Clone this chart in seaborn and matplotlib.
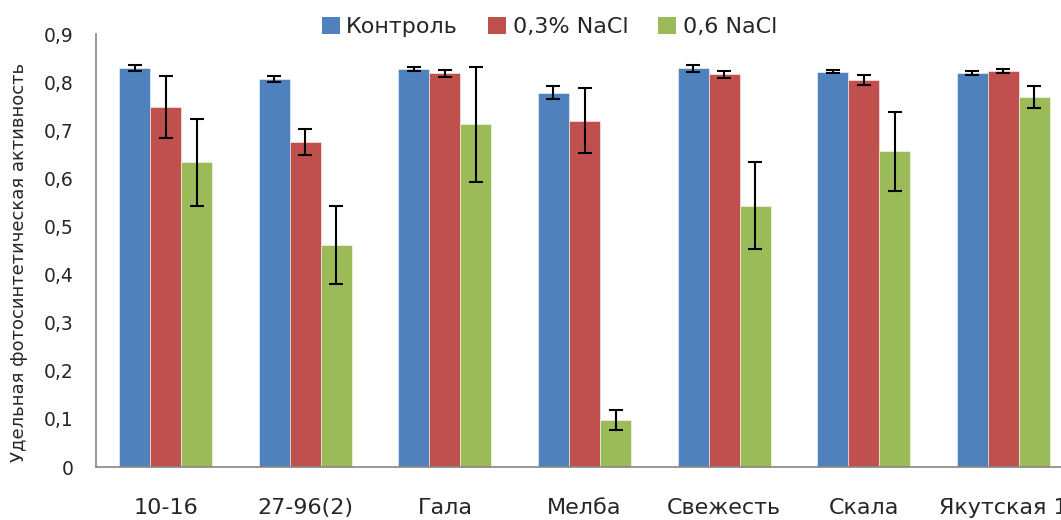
import numpy as np
import pandas as pd
import matplotlib
matplotlib.use("Agg")
import matplotlib.pyplot as plt
import seaborn as sns
from matplotlib.patches import Patch

# Photosynthetic activity by cultivar and salt treatment
cultivars = ["10-16", "27-96(2)", "Гала", "Мелба", "Свежесть", "Скала", "Якутская 1"]
treatments = ["Контроль", "0,3% NaCl", "0,6 NaCl"]

control = [0.829, 0.807, 0.828, 0.778, 0.829, 0.822, 0.819]
nacl_03 = [0.748, 0.675, 0.818, 0.720, 0.816, 0.804, 0.823]
nacl_06 = [0.633, 0.462, 0.712, 0.097, 0.543, 0.656, 0.769]

control_err = [0.006, 0.006, 0.004, 0.013, 0.007, 0.003, 0.005]
nacl_03_err = [0.065, 0.027, 0.007, 0.068, 0.007, 0.011, 0.004]
nacl_06_err = [0.090, 0.081, 0.120, 0.021, 0.090, 0.082, 0.023]

y_ticks = [0, 0.1, 0.2, 0.3, 0.4, 0.5, 0.6, 0.7, 0.8, 0.9]
y_label = "Удельная фотосинтетическая активность"

colors = ["#4F81BD", "#C0504D", "#9BBB59"]

values = [control, nacl_03, nacl_06]
errors = [control_err, nacl_03_err, nacl_06_err]

df = pd.DataFrame({
    "cultivar": np.repeat([cultivars], 3, axis=0).ravel(),
    "treatment": np.repeat(treatments, len(cultivars)),
    "value": np.concatenate(values),
})

sns.set_style("white")
plt.rcParams["font.family"] = ["DejaVu Sans"]

fig = plt.figure(figsize=(10.61, 5.2), dpi=100)
ax = fig.add_axes([0.0905, 0.1019, 0.9208, 0.8327])

sns.barplot(
    data=df, x="cultivar", y="value", hue="treatment",
    order=cultivars, hue_order=treatments, palette=colors,
    errorbar=None, width=0.667, gap=0, saturation=1,
    edgecolor=(1, 1, 1, 0.6), linewidth=0.6, legend=False, ax=ax,
)

# error bars on the centre of each bar
for container, err in zip(ax.containers, errors):
    xs = [p.get_x() + p.get_width() / 2 for p in container.patches]
    hs = [p.get_height() for p in container.patches]
    ax.errorbar(xs, hs, yerr=err, fmt="none", ecolor="black",
                elinewidth=1.5, capsize=4.8, capthick=1.5, zorder=5)

ax.set_xlim(-0.5, len(cultivars) - 0.5)
ax.set_ylim(0, 0.9)
ax.set_yticks(y_ticks)
ax.set_yticklabels([f"{t:.1f}".replace(".", ",") if t else "0" for t in y_ticks],
                   fontsize=13.5)
ax.set_xticks(range(len(cultivars)))
ax.set_xticklabels(cultivars, fontsize=16)
ax.set_xticks(np.arange(-0.5, len(cultivars), 1), minor=True)
ax.tick_params(axis="x", which="major", length=0, pad=22)
ax.tick_params(axis="x", which="minor", length=7, width=1.2, color="#868686")
ax.tick_params(axis="y", length=7, width=1.2, color="#868686", pad=9)
ax.set_xlabel("")
ax.set_ylabel(y_label, fontsize=13)
ax.yaxis.set_label_coords(-0.0696, 0.473)

for side in ["top", "right"]:
    ax.spines[side].set_visible(False)
for side in ["left", "bottom"]:
    ax.spines[side].set_color("#868686")
    ax.spines[side].set_linewidth(1.2)

handles = [Patch(facecolor=c, edgecolor="none") for c in colors]
fig.legend(handles, treatments, loc="center", bbox_to_anchor=(0.518, 0.948),
           ncol=3, frameon=False, fontsize=16, handlelength=0.81,
           handleheight=0.81, handletextpad=0.3, columnspacing=1.35,
           borderaxespad=0)

fig.savefig("out.png", dpi=100)
